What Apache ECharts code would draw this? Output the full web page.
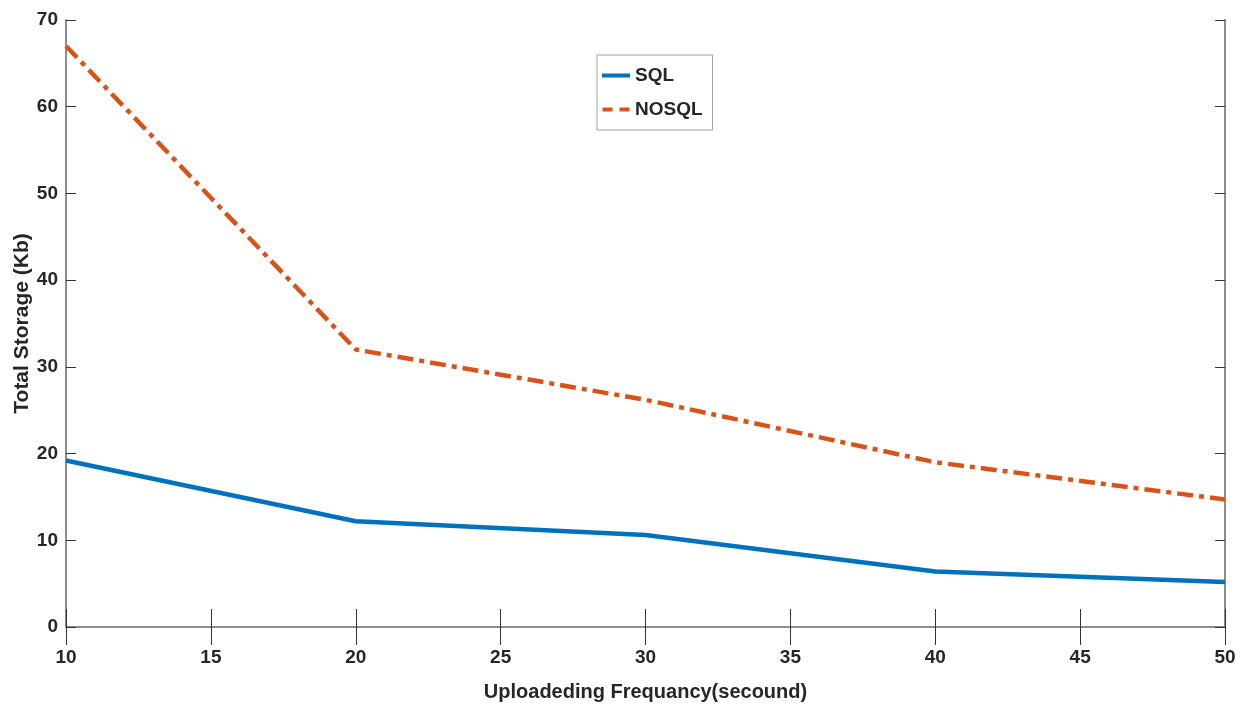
<!DOCTYPE html>
<html>
<head>
<meta charset="utf-8">
<script src="https://cdn.jsdelivr.net/npm/echarts@6/dist/echarts.min.js"></script>
<style>
html,body{margin:0;padding:0;background:#fff;}
#chart{width:1244px;height:713px;}
</style>
</head>
<body>
<div id="chart"></div>
<script>
const frequency = [10, 20, 30, 40, 50];
const sqlStorage = [19.2, 12.2, 10.6, 6.4, 5.2];
const nosqlStorage = [67.0, 32.0, 26.2, 19.0, 14.7];
const xTitle = 'Uploadeding Frequancy(secound)';
const yTitle = 'Total Storage (Kb)';

const pairs = (xs, ys) => xs.map((x, i) => [x, ys[i]]);
const font = '"Liberation Sans", Arial, sans-serif';
const txt = '#262626';
const axisLine = {show: true, lineStyle: {color: '#8c8c8c', width: 2}};

const chart = echarts.init(document.getElementById('chart'));
chart.setOption({
  animation: false,
  backgroundColor: '#fff',
  grid: {left: 66, right: 19, top: 20, bottom: 86, outerBoundsMode: 'none', containLabel: false},
  legend: {
    orient: 'vertical',
    left: 597, top: 55,
    padding: [11, 10, 11, 5],
    itemGap: 15,
    itemWidth: 28, itemHeight: 4,
    borderColor: '#a0a0a0', borderWidth: 1,
    backgroundColor: '#fff',
    textStyle: {fontFamily: font, fontWeight: 'bold', fontSize: 19, color: txt},
    data: [
      {name: 'SQL', icon: 'rect'},
      {name: 'NOSQL', icon: 'path://M0,0h10v4h-10zM17,0h10v4h-10z'}
    ]
  },
  xAxis: [{
    type: 'value', min: 10, max: 50, interval: 5,
    axisLine: axisLine,
    axisTick: {show: true, inside: true, length: 18, lineStyle: {color: '#333', width: 1}},
    splitLine: {show: false},
    axisLabel: {fontFamily: font, fontWeight: 'bold', fontSize: 19, color: txt, margin: 21},
    name: xTitle, nameLocation: 'middle', nameGap: 55, nameMoveOverlap: false,
    nameTextStyle: {fontFamily: font, fontWeight: 'bold', fontSize: 20, color: txt}
  }, {
    type: 'value', min: 10, max: 50, interval: 5, position: 'top',
    axisLine: axisLine,
    axisTick: {show: true, inside: true, length: 18, lineStyle: {color: '#333', width: 1}},
    splitLine: {show: false}, axisLabel: {show: false}
  }],
  yAxis: [{
    type: 'value', min: 0, max: 70, interval: 10,
    axisLine: axisLine,
    axisTick: {show: true, inside: true, length: 10, lineStyle: {color: '#333', width: 1}},
    splitLine: {show: false},
    axisLabel: {fontFamily: font, fontWeight: 'bold', fontSize: 19, color: txt, margin: 8},
    name: yTitle, nameLocation: 'middle', nameGap: 33, nameMoveOverlap: false,
    nameTextStyle: {fontFamily: font, fontWeight: 'bold', fontSize: 21, color: txt}
  }, {
    type: 'value', min: 0, max: 70, interval: 10, position: 'right',
    axisLine: axisLine,
    axisTick: {show: true, inside: true, length: 10, lineStyle: {color: '#333', width: 1}},
    splitLine: {show: false}, axisLabel: {show: false}
  }],
  series: [{
    name: 'SQL', type: 'line', data: pairs(frequency, sqlStorage),
    showSymbol: false, symbol: 'none',
    lineStyle: {color: '#0072BD', width: 4.5},
    itemStyle: {color: '#0072BD'}
  }, {
    name: 'NOSQL', type: 'line', data: pairs(frequency, nosqlStorage),
    showSymbol: false, symbol: 'none',
    lineStyle: {color: '#D95319', width: 4.5, type: [16, 6, 5, 6]},
    itemStyle: {color: '#D95319'}
  }]
});
</script>
</body>
</html>
